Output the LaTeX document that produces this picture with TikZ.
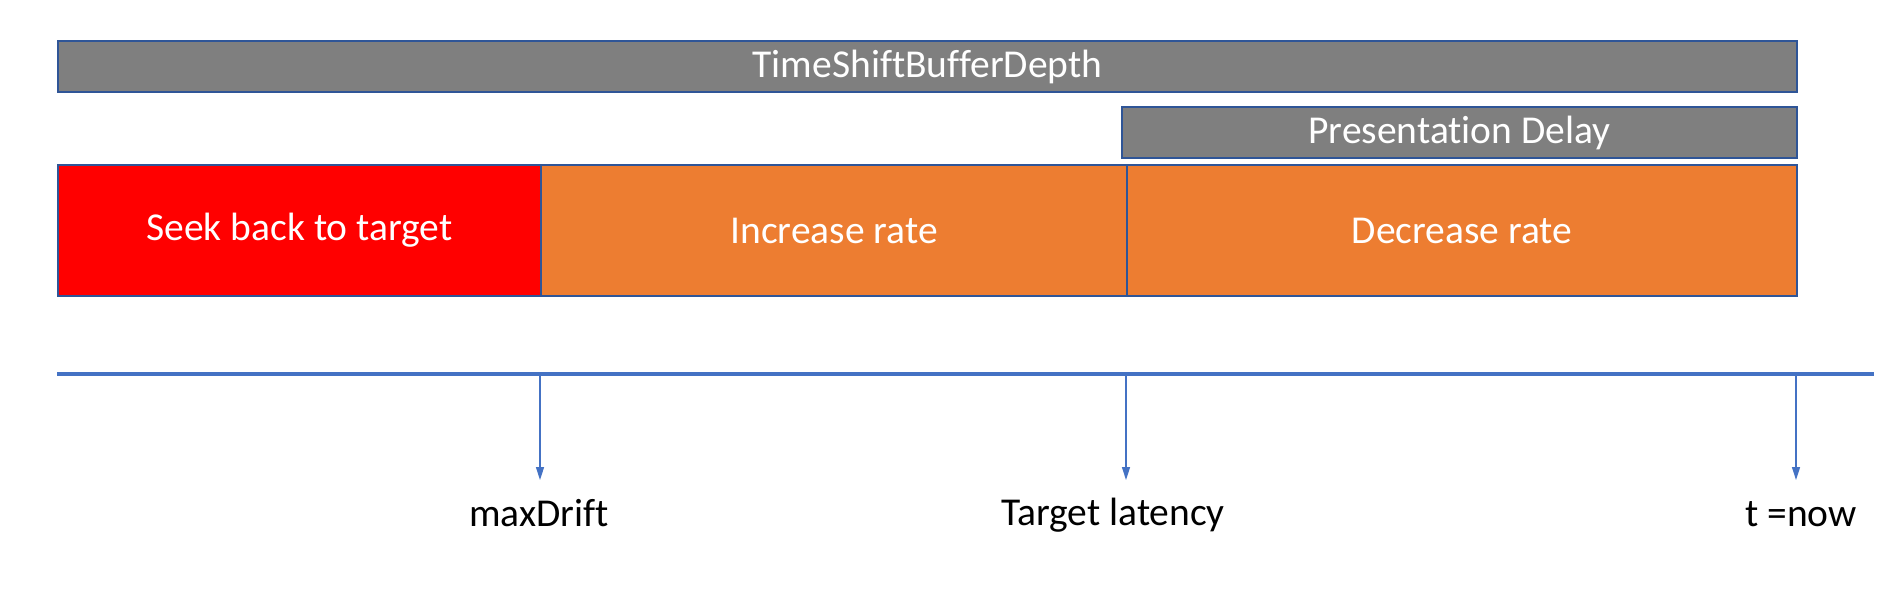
\documentclass[tikz,border=0pt]{standalone}
\usepackage{fontspec}
\setmainfont{Carlito}[Ligatures=NoCommon]
\usetikzlibrary{arrows.meta}
\definecolor{boxgray}{RGB}{127,127,127}
\definecolor{boxred}{RGB}{255,0,0}
\definecolor{boxorange}{RGB}{237,125,49}
\definecolor{edgeblue}{RGB}{47,85,151}
\definecolor{lineblue}{RGB}{68,114,196}
\tikzset{
  bar/.style={draw=edgeblue, line width=2pt, rectangle, inner sep=0pt, text=white,
    font=\fontsize{39.5}{47}\selectfont},
  lbl/.style={anchor=base, inner sep=0pt, text=black, font=\fontsize{39.5}{47}\selectfont},
  marker/.style={draw=lineblue, line width=1.5pt, -{Triangle[length=13pt,width=8pt]}}
}
\begin{document}
\begin{tikzpicture}[x=1pt,y=-1pt]
\useasboundingbox (0,0) rectangle (1904,598);
% top bars
\node[bar, fill=boxgray, minimum width=1739pt, minimum height=51pt, anchor=north west] (tsbd) at (57,40) {TimeShiftBufferDepth};
\node[bar, fill=boxgray, minimum width=675pt, minimum height=51pt, anchor=north west] (pd) at (1121,106) {Presentation Delay};
% main row
\node[bar, fill=boxred, minimum width=483pt, minimum height=131pt, anchor=north west] (seek) at (57,164) {Seek back to target};
\node[bar, fill=boxorange, minimum width=586pt, minimum height=131pt, anchor=north west] (inc) at (540,164) {Increase rate};
\node[bar, fill=boxorange, minimum width=670pt, minimum height=131pt, anchor=north west] (dec) at (1126,164) {Decrease rate};
\draw[edgeblue, line width=1pt] (inc.north west) -- (inc.south west);
\draw[edgeblue, line width=1pt] (dec.north west) -- (dec.south west);
% timeline
\coordinate (t0) at (57,374);
\coordinate (t1) at (1874,374);
\draw[lineblue, line width=4pt] (t0) -- (t1);
\coordinate (m1) at (540,376); \coordinate (m1e) at (540,480);
\coordinate (m2) at (1126,376); \coordinate (m2e) at (1126,480);
\coordinate (m3) at (1796,376); \coordinate (m3e) at (1796,480);
\draw[marker] (m1) -- (m1e);
\draw[marker] (m2) -- (m2e);
\draw[marker] (m3) -- (m3e);
% labels
\node[lbl] (lmax) at (539,526) {maxDrift};
\node[lbl] (ltar) at (1113,525) {Target latency};
\node[lbl] (lnow) at (1801,526) {t =now};
\end{tikzpicture}
\end{document}
